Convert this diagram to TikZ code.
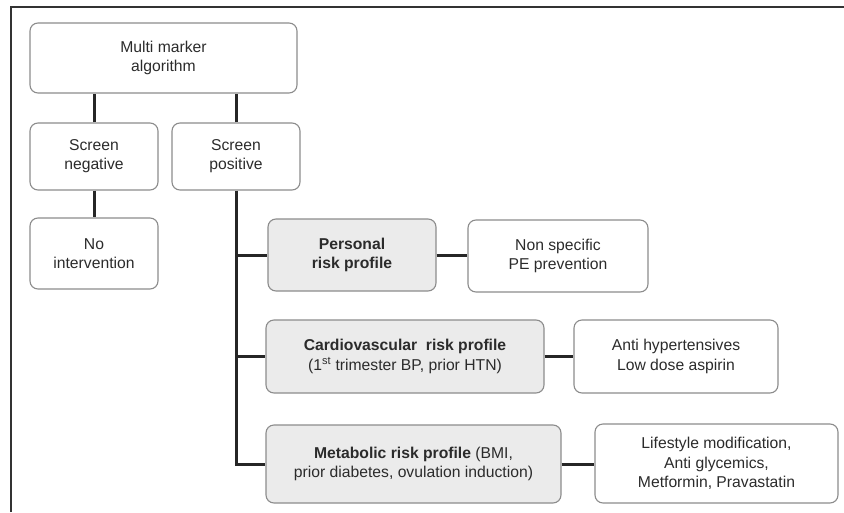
\documentclass[tikz,border=0pt]{standalone}
\usepackage{fontspec}
\setmainfont{Liberation Sans}
\definecolor{boxline}{HTML}{8C8C8C}
\definecolor{boxfill}{HTML}{EBEBEB}
\definecolor{boxtext}{HTML}{2B2B2B}
\tikzset{
  box/.style={draw=boxline, line width=1.1pt, rounded corners=8pt, align=center,
    inner sep=0pt, text=boxtext, font=\fontsize{15.7}{19.2}\selectfont},
  riskbox/.style={box, fill=boxfill},
  link/.style={line width=3pt, draw=black!85}
}
\begin{document}
\begin{tikzpicture}[x=1pt,y=-1pt]
      \useasboundingbox (0,0) rectangle (844,512);
      \draw[line width=2pt, black!80] (11,512) -- (11,7) -- (844,7);
      \draw
        (163.5,58) node[box, minimum width=267pt, minimum height=70pt] (algo){Multi marker\\algorithm}
        (94,156.5) node[box, minimum width=128pt, minimum height=67pt] (neg){Screen\\negative}
        (236,156.5) node[box, minimum width=128pt, minimum height=67pt] (pos){Screen\\positive}
        (94,253.5) node[box, minimum width=128pt, minimum height=71pt] (noint){No\\intervention}
        (352,255) node[riskbox, minimum width=168pt, minimum height=72pt] (personal){\textbf{Personal}\\\textbf{risk profile}}
        (558,256) node[box, minimum width=180pt, minimum height=72pt] (nonspec){Non specific\\PE prevention}
        (405,356.5) node[riskbox, minimum width=278pt, minimum height=73pt] (cardio){\textbf{Cardiovascular\ \ risk profile}\\(1\textsuperscript{st} trimester BP, prior HTN)}
        (676,356.5) node[box, minimum width=204pt, minimum height=73pt] (antihyp){Anti hypertensives\\Low dose aspirin}
        (413.5,464) node[riskbox, minimum width=295pt, minimum height=78pt] (metab){\textbf{Metabolic risk profile} (BMI,\\prior diabetes, ovulation induction)}
        (716.5,463.5) node[box, minimum width=243pt, minimum height=79pt] (life){Lifestyle modification,\\Anti glycemics,\\Metformin, Pravastatin};
      \begin{scope}[link]
        \draw (neg.north) to (neg.north |- algo.south);
        \draw (pos.north) to (pos.north |- algo.south);
        \draw (neg.south) to (noint.north);
        \draw (pos.south) |- (metab.west);
        \draw (pos.south |- personal.west) to (personal.west);
        \draw (pos.south |- cardio.west) to (cardio.west);
        \draw (personal.east) to (personal.east -| nonspec.west);
        \draw (cardio.east) to (cardio.east -| antihyp.west);
        \draw (metab.east) to (metab.east -| life.west);
      \end{scope}
    \end{tikzpicture}
\end{document}
